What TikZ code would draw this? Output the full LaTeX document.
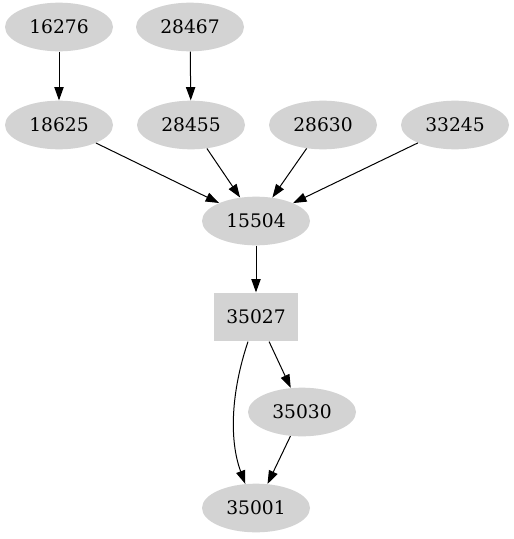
\documentclass[tikz,border=0pt]{standalone}
\usepackage{fontspec}
\setmainfont{DejaVu Serif}
\usepackage{xcolor}
\usetikzlibrary{arrows.meta, shapes.geometric}

\definecolor{nodegray}{RGB}{211,211,211}

\begin{document}
\begin{tikzpicture}[
  x=0.75pt, y=-0.75pt,
  ell/.style={ellipse, fill=nodegray, inner sep=0pt, minimum width=81pt, minimum height=36.5pt, font=\fontsize{14}{17}\selectfont},
  boxnode/.style={rectangle, fill=nodegray, inner sep=0pt, minimum width=63pt, minimum height=36.5pt, font=\fontsize{14}{17}\selectfont},
  arrow/.style={-{Triangle[length=10pt,width=7pt]}, line width=0.75pt}
]
\useasboundingbox (0,0) rectangle (514,539);
\node[ell] (n16276) at (59,27) {16276};
\node[ell] (n28467) at (190,27) {28467};
\node[ell] (n18625) at (59,125) {18625};
\node[ell] (n28455) at (191,125) {28455};
\node[ell] (n28630) at (323,125) {28630};
\node[ell] (n33245) at (455,125) {33245};
\node[ell] (n15504) at (256,221) {15504};
\node[boxnode] (n35027) at (256,317) {35027};
\node[ell] (n35030) at (302,412) {35030};
\node[ell] (n35001) at (256,508) {35001};
\draw[arrow] (n16276) -- (n18625);
\draw[arrow] (n28467) -- (n28455);
\draw[arrow] (n18625) -- (n15504);
\draw[arrow] (n28455) -- (n15504);
\draw[arrow] (n28630) -- (n15504);
\draw[arrow] (n33245) -- (n15504);
\draw[arrow] (n15504) -- (n35027);
\draw[arrow] (n35027.-62) -- (n35030);
\draw[arrow] (n35030) -- (n35001);
\draw[arrow] (n35027.-108) .. controls (231,392) and (229,440) .. (n35001.114);
\end{tikzpicture}
\end{document}
